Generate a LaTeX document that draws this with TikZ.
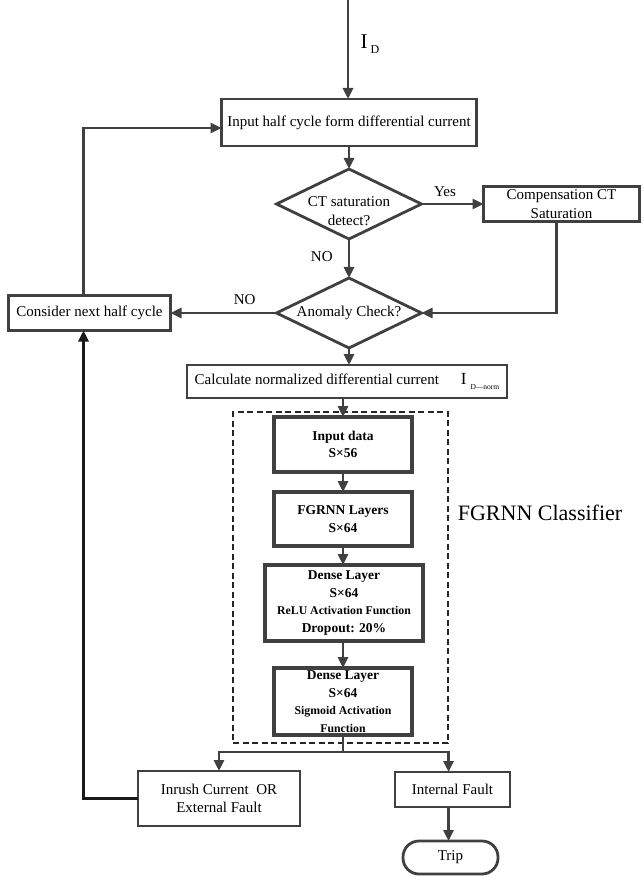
\documentclass[tikz,border=0pt]{standalone}
\usepackage{fontspec}
\setmainfont{Liberation Serif}
\usepackage{xcolor}
\usepackage{tikz}
\usetikzlibrary{shapes.geometric,arrows.meta,positioning}

\definecolor{linegray}{HTML}{404040}
\newcommand\actfont{\fontsize{11.8}{17}\selectfont}

\begin{document}
\begin{tikzpicture}[
  x=1pt, y=-1pt,
  box/.style={
    rectangle, draw=linegray, line width=2.8pt, fill=white,
    align=center, inner xsep=3pt, inner ysep=3pt, outer sep=0pt,
    font=\fontsize{15}{18.5}\selectfont
  },
  nnbox/.style={
    rectangle, draw=linegray, line width=3.8pt, fill=white,
    align=center, inner xsep=2pt, inner ysep=0pt, outer sep=0pt,
    minimum width=138pt, font=\fontsize{13.5}{17.5}\selectfont\bfseries
  },
  dec/.style={
    diamond, draw=linegray, line width=2.8pt, fill=white, aspect=2,
    inner sep=0pt, outer sep=0pt, minimum width=145pt, minimum height=70pt,
    align=center, font=\fontsize{15}{18.5}\selectfont
  },
  term/.style={
    rectangle, rounded corners=16pt, draw=linegray, line width=2.8pt,
    outer sep=0pt, minimum width=95pt, minimum height=33pt,
    font=\fontsize{15}{18.5}\selectfont
  },
  dashbox/.style={draw=black!85, line width=2.6pt, dash pattern=on 6pt off 3.5pt},
  arr/.style={-{Triangle[length=11pt,width=10pt]}, line width=2.8pt, draw=linegray},
  backarr/.style={arr, draw=black!90},
  lbl/.style={font=\fontsize{15}{18.5}\selectfont, inner sep=1pt},
]
\useasboundingbox (0,0) rectangle (642,877);

%% ── Main column ──────────────────────────────────────────────────
\node[box, minimum width=255pt, minimum height=47pt] (input) at (349,122.5)
      {Input half cycle form differential current};
\node[dec, below=23pt of input]  (ctsat)
      {\raisebox{-12pt}[0pt][0pt]{\begin{tabular}{@{}c@{}}CT saturation\\detect?\end{tabular}}};
\node[dec, below=39pt of ctsat]  (anom)  {Anomaly Check?};
\node[box, below=17pt of anom, xshift=-2pt, minimum width=320pt, minimum height=33pt] (calc)
      {Calculate normalized differential current\hspace{22pt}{\fontsize{17}{17}\selectfont I}\kern4pt\raisebox{-5pt}{\fontsize{7.5}{8}\selectfont D—norm}};

%% ── Side boxes ───────────────────────────────────────────────────
\node[box, right=62pt of ctsat, minimum width=156pt, minimum height=35pt] (comp)
      {Compensation CT\\Saturation};
\node[box, left=106pt of anom, minimum width=162pt, minimum height=35pt] (next)
      {Consider next half cycle};

%% ── FGRNN classifier ─────────────────────────────────────────────
\node[nnbox, below=19pt of calc, xshift=-4pt, minimum height=55pt] (indata) {Input data\\S×56};
\node[nnbox, below=20pt of indata, minimum height=54pt]             (fgrnn)  {FGRNN Layers\\S×64};
\node[nnbox, below=19pt of fgrnn, xshift=1pt, minimum width=158pt, minimum height=76pt] (dense1)
      {Dense Layer\\S×64\\{\actfont ReLU Activation Function}\\Dropout: 20\%};
\node[nnbox, below=27pt of dense1, xshift=-1pt, minimum height=67pt] (dense2)
      {Dense Layer\\S×64\\{\actfont Sigmoid Activation}\\{\actfont Function}};

\node[dashbox, minimum width=215pt, minimum height=331pt, inner sep=0pt] (clf) at (340.5,577.5) {};
\node[anchor=west, xshift=5pt, yshift=6pt, font=\fontsize{22}{26}\selectfont] (clflbl)
      at (clf.east |- fgrnn.center) {FGRNN Classifier};

%% ── Outputs ──────────────────────────────────────────────────────
\node[box, below=36pt of dense2, xshift=-124pt, minimum width=162pt, minimum height=55pt] (inrush)
      {Inrush Current~ OR\\External Fault};
\node[box, below=37pt of dense2, xshift=109.5pt, minimum width=115pt, minimum height=35pt] (intf)
      {Internal Fault};
\node[term, below=34pt of intf, xshift=-2pt] (trip) {Trip};

%% ── Input signal ─────────────────────────────────────────────────
\coordinate (feed) at (348,0);
\node[anchor=base west] (idlbl) at (357,49)
      {\fontsize{21}{21}\selectfont I\kern3pt\raisebox{-5pt}{\fontsize{12}{12}\selectfont D}};

%% ── Arrows ───────────────────────────────────────────────────────
\draw[arr] (feed) -- (feed |- input.north);
\draw[arr] (input) -- (ctsat);
\draw[arr] (ctsat) -- (comp) node[lbl, pos=0.38, above=5pt] (yeslbl) {Yes};
\draw[arr] (ctsat) -- (anom) node[lbl, pos=0.45, left=14pt] (nolbl1) {NO};
\draw[arr] ([xshift=-5pt]comp.south) |- (anom.east);
\draw[arr] (anom) -- (next) node[lbl, pos=0.3, above=6pt] (nolbl2) {NO};
\draw[arr] ([xshift=-6pt]next.north) |- ([yshift=-5.5pt]input.west);
\draw[arr] (anom.south) -- (anom.south |- calc.north);
\draw[arr] (calc.south -| indata) -- (indata);
\draw[arr] (indata) -- (fgrnn);
\draw[arr] (fgrnn.south) -- (fgrnn.south |- dense1.north);
\draw[arr] (dense1.south -| dense2) -- (dense2);

%% ── Split to outputs ─────────────────────────────────────────────
\coordinate[below=17pt of dense2.south] (split);
\draw[arr] (dense2.south) -- (split) -| (inrush.north);
\draw[arr] (split) -| ([xshift=-4pt]intf.north);
\draw[arr] ([xshift=-4pt]intf.south) -- ([xshift=-4pt]intf.south |- trip.north);
\draw[backarr] (inrush.west) -| ([xshift=-6pt]next.south);

\end{tikzpicture}
\end{document}
